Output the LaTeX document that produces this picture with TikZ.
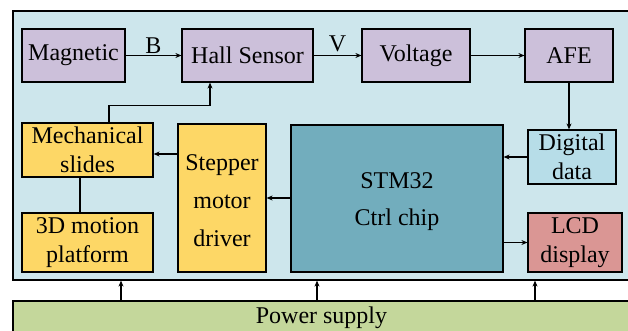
\documentclass[tikz,border=0pt]{standalone}
\usepackage{fontspec}
\setmainfont{Liberation Serif}
\usetikzlibrary{arrows.meta}
\definecolor{bgblue}{HTML}{CDE6EC}
\definecolor{purp}{HTML}{CCC0DA}
\definecolor{yel}{HTML}{FDD766}
\definecolor{teal2}{HTML}{72ADBD}
\definecolor{dig}{HTML}{B7DDE8}
\definecolor{lcd}{HTML}{DA9694}
\definecolor{pgreen}{HTML}{C4D79B}
\tikzset{
  blk/.style={draw=black, line width=1.2pt, align=center, inner sep=0pt,
    font=\fontsize{24}{29}\selectfont},
  arr/.style={line width=1.2pt, -{Stealth[length=6pt,width=5pt]}},
  ln/.style={line width=1.2pt},
}
\begin{document}
\begin{tikzpicture}[x=1pt,y=-1pt]
\useasboundingbox (0,0) rectangle (628,331);
\clip (0,0) rectangle (628,331);
\node[blk, fill=bgblue, minimum width=617pt, minimum height=269pt] (sys) at (321.5,145.5) {};
\node[blk, fill=pgreen, minimum width=617pt, minimum height=34pt] (pwr) at (321.5,318) {Power supply};

\node[blk, fill=purp, minimum width=103pt, minimum height=53pt] (mag) at (73.5,55.5) {Magnetic};
\node[blk, fill=purp, minimum width=131pt, minimum height=53pt] (hall) at (247.5,55.5) {Hall Sensor};
\node[blk, fill=purp, minimum width=108pt, minimum height=53pt] (volt) at (416,55.5) {Voltage};
\node[blk, fill=purp, minimum width=88pt, minimum height=53pt] (afe) at (569,55.5) {AFE};
\node[blk, fill=dig, minimum width=88pt, minimum height=54pt] (dig) at (572,157) {Digital\\data};
\node[blk, fill=lcd, minimum width=94pt, minimum height=59pt] (lcd) at (575,242.5) {LCD\\display};
\node[blk, fill=teal2, minimum width=212pt, minimum height=147pt] (stm) at (397,198.5) {};
\node[blk, draw=none, inner sep=0pt] (stmtxt) at (397,202) {STM32\\[8pt]Ctrl chip};
\node[blk, fill=yel, minimum width=88pt, minimum height=148pt] (step) at (222,198) {};
\node[blk, draw=none, inner sep=0pt] (steptxt) at (222,201) {Stepper\\[9pt]motor\\[9pt]driver};
\node[blk, fill=yel, minimum width=131pt, minimum height=54pt] (mech) at (87.5,150) {Mechanical\\slides};
\node[blk, fill=yel, minimum width=131pt, minimum height=59pt] (plat) at (87.5,242.5) {3D motion\\platform};

\draw[arr] (mag.east) -- node[above=1pt, font=\fontsize{24}{29}\selectfont, inner sep=0pt] {B} (hall.west);
\draw[arr] (hall.east) -- node[above=3pt, font=\fontsize{24}{29}\selectfont, inner sep=0pt] {V} (volt.west);
\draw[arr] (volt.east) -- (afe.west);
\draw[arr] (afe.south) -- (afe.south |- dig.north);
\draw[arr] (dig.west) -- (dig.west -| stm.east);
\draw[arr] (stm.west |- step.east) -- (step.east);
\draw[arr] ([yshift=-4pt]mech.east -| step.west) -- ([yshift=-4pt]mech.east);
\draw[arr] ([xshift=21.5pt]mech.north) -- ++(0,-17) -| ([xshift=-37.5pt]hall.south);
\draw[ln] ([xshift=-7.5pt]mech.south) -- ([xshift=-7.5pt]plat.north);
\draw[arr] (stm.east |- lcd.west) -- (lcd.west);

\draw[arr] (pwr.north -| 121,0) -- (sys.south -| 121,0);
\draw[arr] (pwr.north -| 317,0) -- (sys.south -| 317,0);
\draw[arr] (pwr.north -| 535,0) -- (sys.south -| 535,0);
\end{tikzpicture}
\end{document}
